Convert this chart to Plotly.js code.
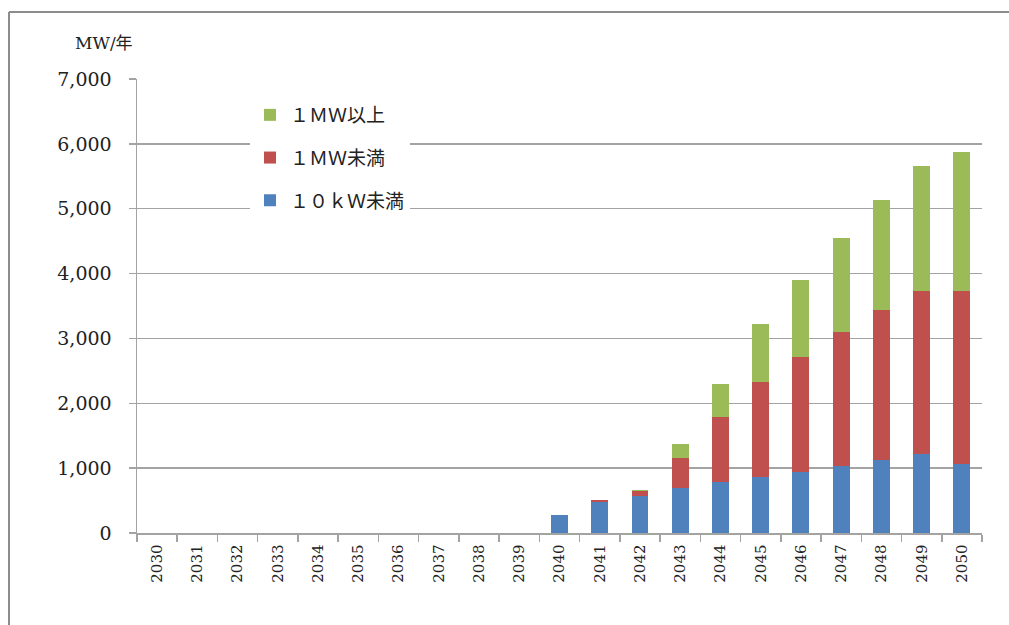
<!DOCTYPE html>
<html>
<head>
<meta charset="utf-8">
<script src="https://cdn.plot.ly/plotly-3.0.1.min.js"></script>
<style>
  html, body { margin: 0; padding: 0; background: #ffffff; }
  #chart { width: 1009px; height: 625px; }
</style>
</head>
<body>
<div id="chart"></div>
<script>
// 年次導入量（MW/年）
const years = ['2030','2031','2032','2033','2034','2035','2036','2037','2038','2039','2040',
               '2041','2042','2043','2044','2045','2046','2047','2048','2049','2050'];

// 10kW未満
const under10kW = [0,0,0,0,0,0,0,0,0,0,270, 475,575,700,780,865,945,1035,1120,1225,1065];
// 1MW未満
const under1MW  = [0,0,0,0,0,0,0,0,0,0,0, 30,65,450,1005,1470,1775,2060,2315,2500,2665];
// 1MW以上
const over1MW   = [0,0,0,0,0,0,0,0,0,0,0, 0,20,215,515,885,1180,1455,1695,1940,2150];

const seriesNames = ['１０ｋＷ未満', '１ＭＷ未満', '１ＭＷ以上'];
const yTicks = [0,1000,2000,3000,4000,5000,6000,7000];
const yTickText = ['0','1,000','2,000','3,000','4,000','5,000','6,000','7,000'];

const serif = 'DejaVu Serif, Noto Sans CJK JP, serif';
const gridGray = '#a3a3a3';

const traces = [
  { name: seriesNames[0], y: under10kW, color: '#4f81bd', rank: 3 },
  { name: seriesNames[1], y: under1MW,  color: '#c0504d', rank: 2 },
  { name: seriesNames[2], y: over1MW,   color: '#9bbb59', rank: 1 }
].map((s, i) => ({
  type: 'bar',
  x: years,
  y: s.y,
  name: s.name,
  legendgroup: 'g' + i,
  legendrank: s.rank,
  marker: { color: s.color },
  hoverinfo: 'x+y+name'
}));

// 描画領域の画素位置
const L = 137, R = 982, T = 79, B = 533;
const px = v => (v - L) / (R - L);
const py = v => (B - v) / (B - T);

const layout = {
  width: 1009,
  height: 625,
  margin: { l: L, r: 1009 - R, t: T, b: 625 - B },
  paper_bgcolor: '#ffffff',
  plot_bgcolor: '#ffffff',
  barmode: 'stack',
  bargap: 0.58,
  showlegend: true,
  legend: {
    x: px(250), y: py(96),
    xanchor: 'left', yanchor: 'top',
    bgcolor: '#ffffff',
    borderwidth: 0,
    traceorder: 'grouped',
    tracegroupgap: 15,
    font: { family: serif, size: 19, color: '#222222' }
  },
  xaxis: {
    type: 'category',
    showline: true,
    linecolor: gridGray,
    linewidth: 1.5,
    ticks: 'outside',
    tickson: 'boundaries',
    ticklen: 7,
    tickcolor: gridGray,
    tickwidth: 1.5,
    tickangle: -90,
    ticklabelstandoff: 4,
    tickfont: { family: serif, size: 15, color: '#222222' },
    showgrid: false,
    zeroline: false,
    fixedrange: true
  },
  yaxis: {
    range: [0, 7000],
    tickvals: yTicks,
    ticktext: yTickText,
    showline: true,
    linecolor: gridGray,
    linewidth: 1.5,
    ticks: 'outside',
    ticklen: 7,
    tickcolor: gridGray,
    tickwidth: 1.5,
    ticklabelstandoff: 13,
    tickfont: { family: serif, size: 19, color: '#222222' },
    showgrid: true,
    gridcolor: gridGray,
    gridwidth: 1.5,
    zeroline: false,
    fixedrange: true
  },
  annotations: [{
    xref: 'paper', yref: 'paper',
    x: px(73), y: py(43),
    xanchor: 'left', yanchor: 'middle',
    text: 'MW/年',
    showarrow: false,
    font: { family: serif, size: 17, color: '#222222' }
  }],
  // 外枠（上辺と左辺）
  shapes: [
    { type: 'line', xref: 'paper', yref: 'paper',
      x0: px(9), x1: px(1009), y0: py(12), y1: py(12),
      line: { color: '#8c8c8c', width: 2 } },
    { type: 'line', xref: 'paper', yref: 'paper',
      x0: px(9), x1: px(9), y0: py(12), y1: py(625),
      line: { color: '#8c8c8c', width: 2 } }
  ]
};

Plotly.newPlot('chart', traces, layout, { displayModeBar: false, staticPlot: true });
</script>
</body>
</html>
